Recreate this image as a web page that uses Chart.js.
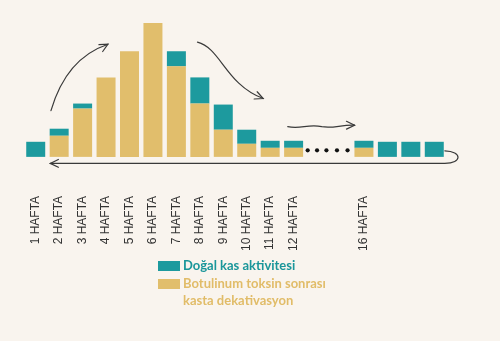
<!DOCTYPE html>
<html>
<head>
<meta charset="utf-8">
<script src="https://cdn.jsdelivr.net/npm/chart.js@4/dist/chart.umd.min.js"></script>
<style>
  body { margin: 0; background: #f9f4ee; }
  #wrap { position: relative; width: 500px; height: 341px; background: #f9f4ee; overflow: hidden; }
  #box { position: absolute; left: 0; top: 0; width: 500px; height: 282px; }
  #legend { position: absolute; left: 158px; top: 257px; font-family: Lato, sans-serif; font-weight: bold; font-size: 13px; line-height: 17px; }
  .item { display: flex; align-items: flex-start; margin-bottom: 1px; }
  .sw { width: 22px; height: 10px; margin-top: 4px; margin-right: 3px; flex: none; }
</style>
</head>
<body>
<div id="wrap">
  <div id="box"><canvas id="chart"></canvas></div>
  <div id="legend">
    <div class="item"><span class="sw" style="background:#1d9a9e"></span><span style="color:#1a969a">Doğal kas aktivitesi</span></div>
    <div class="item"><span class="sw" style="background:#e1be6c"></span><span style="color:#e1bc68">Botulinum toksin sonrası<br>kasta dekativasyon</span></div>
  </div>
</div>
<script>
// week labels (13-14 are the gap with dots, 17-19 unlabeled)
const weeks = ['1 HAFTA', '2 HAFTA', '3 HAFTA', '4 HAFTA', '5 HAFTA', '6 HAFTA', '7 HAFTA', '8 HAFTA',
  '9 HAFTA', '10 HAFTA', '11 HAFTA', '12 HAFTA', '', '', '16 HAFTA', '', '', ''];
// deactivated muscle (bottom, yellow)
const deactivated = [0, 21, 48, 79, 105, 133, 90, 53, 27, 13, 9, 9, null, null, 9, 0, 0, 0];
// natural muscle activity (top, teal)
const natural = [15, 7, 5, 0, 0, 0, 15, 26, 25, 14, 7, 7, null, null, 7, 15, 15, 15];

const TEAL = '#1d9a9e';
const YELLOW = '#e1be6c';

function arrowHead(ctx, x, y, angle, len) {
  ctx.beginPath();
  ctx.moveTo(x - len * Math.cos(angle - 0.45), y - len * Math.sin(angle - 0.45));
  ctx.lineTo(x, y);
  ctx.lineTo(x - len * Math.cos(angle + 0.45), y - len * Math.sin(angle + 0.45));
  ctx.stroke();
}

const decorations = {
  id: 'decorations',
  afterDatasetsDraw(chart) {
    const { ctx } = chart;
    const xs = chart.scales.x;
    const ys = chart.scales.y;
    const px = (i) => xs.getPixelForValue(i);
    const py = (v) => ys.getPixelForValue(v);
    ctx.save();
    ctx.strokeStyle = '#3a3a3a';
    ctx.lineWidth = 1.2;
    ctx.lineCap = 'round';

    // rising arrow
    ctx.beginPath();
    ctx.moveTo(px(0.65), py(46));
    ctx.quadraticCurveTo(px(1.3), py(98), px(3.08), py(112));
    ctx.stroke();
    arrowHead(ctx, px(3.08), py(112), -0.5, 9);

    // falling arrow
    ctx.beginPath();
    ctx.moveTo(px(6.9), py(114));
    ctx.bezierCurveTo(px(7.9), py(108), px(8.1), py(72), px(9.7), py(58));
    ctx.stroke();
    arrowHead(ctx, px(9.7), py(58), 0.4, 9);

    // wavy arrow
    ctx.beginPath();
    ctx.moveTo(px(10.75), py(30));
    ctx.bezierCurveTo(px(11.3), py(27), px(11.6), py(33), px(12.2), py(30));
    ctx.bezierCurveTo(px(12.7), py(28), px(13), py(32), px(13.6), py(31.5));
    ctx.stroke();
    arrowHead(ctx, px(13.6), py(31.5), 0, 9);

    // return arrow under the bars
    ctx.beginPath();
    ctx.moveTo(px(17.45), py(6));
    ctx.bezierCurveTo(px(18.2), py(5.5), px(18.2), py(-6.5), px(17.45), py(-6.5));
    ctx.lineTo(px(0.62), py(-6.5));
    ctx.stroke();
    arrowHead(ctx, px(0.62), py(-6.5), Math.PI, 9);

    // dots for the skipped weeks
    ctx.fillStyle = '#111';
    [11.6, 12.0, 12.4, 12.85, 13.3].forEach((i) => {
      ctx.beginPath();
      ctx.arc(px(i), py(6.5), 2.1, 0, Math.PI * 2);
      ctx.fill();
    });
    ctx.restore();
  },
};

new Chart(document.getElementById('chart'), {
  type: 'bar',
  data: {
    labels: weeks,
    datasets: [
      {
        label: 'Botulinum toksin sonrası kasta dekativasyon',
        data: deactivated,
        backgroundColor: YELLOW,
        barPercentage: 0.9,
        categoryPercentage: 0.9,
      },
      {
        label: 'Doğal kas aktivitesi',
        data: natural,
        backgroundColor: TEAL,
        barPercentage: 0.9,
        categoryPercentage: 0.9,
      },
    ],
  },
  options: {
    responsive: true,
    maintainAspectRatio: false,
    animation: false,
    layout: { padding: { left: 24, right: 54, top: 10, bottom: 0 } },
    plugins: { legend: { display: false }, tooltip: { enabled: false } },
    scales: {
      x: {
        stacked: true,
        grid: { display: false },
        border: { display: false },
        ticks: {
          autoSkip: false,
          minRotation: 90,
          maxRotation: 90,
          padding: 31,
          color: '#333',
          font: { family: 'Liberation Sans', size: 12 },
        },
      },
      y: {
        stacked: true,
        display: false,
        min: 0,
        max: 146,
      },
    },
  },
  plugins: [decorations],
});
</script>
</body>
</html>
